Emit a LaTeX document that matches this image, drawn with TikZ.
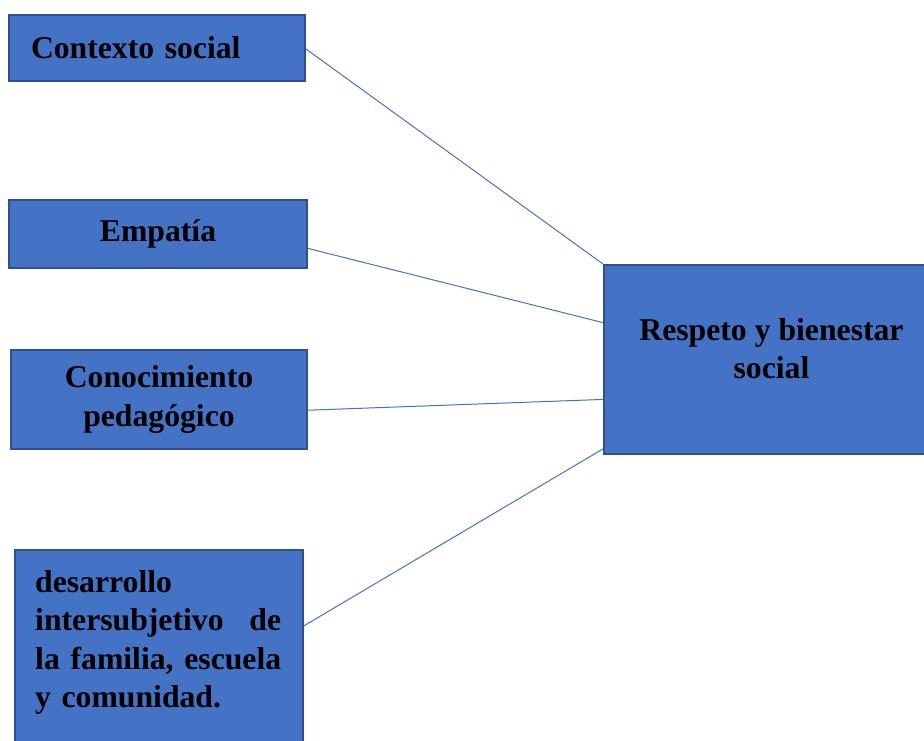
\documentclass[tikz,border=0pt]{standalone}
\usepackage{fontspec}
\setmainfont{Liberation Serif}
\usetikzlibrary{calc, positioning}
\definecolor{boxfill}{HTML}{4472C4}
\definecolor{boxline}{HTML}{2F528F}
\definecolor{linkline}{HTML}{4472C4}
\tikzset{
    box/.style = {rectangle, draw=boxline, line width=2pt, fill=boxfill, inner sep=0pt, anchor=north west}, % the blue boxes
    txt/.style = {font=\fontsize{31.7}{38.5}\selectfont\bfseries, align=center},
    link/.style = {draw=linkline, line width=1pt}
}

\begin{document}
\begin{tikzpicture}[x=1pt, y=-1pt]
        \useasboundingbox (0,0) rectangle (924,740);

        %boxes

        \node(ctx)[box, txt, align=left, text width=252pt, minimum width=296pt, minimum height=66pt] at (8,14) {Contexto social};
        \node(emp)[box, txt, minimum width=298pt, minimum height=68pt] at (8,199) {Empatía};
        \node(con)[box, txt, minimum width=296pt, minimum height=99pt] at (10,349) {Conocimiento\\pedagógico};
        \node(des)[box, minimum width=288pt, minimum height=200pt] at (14,549) {};
        \node(resp)[box, minimum width=323pt, minimum height=189pt] at (603,264) {};

        %texts

        \node(desT)[txt, align=left, text width=246pt, inner sep=0pt, anchor=north west] at ($(des.north west) + (21,21)$) {desarrollo\\intersubjetivo\hfill de\\la\hfill familia,\hfill escuela\\y comunidad.};
        \node(respT)[txt, inner sep=0pt] at ($(resp.center) + (6,-11)$) {Respeto y bienestar\\social};

        %lines

        \draw[link] ($(ctx.north east)!0.515!(ctx.south east)$) -- (resp.north west);
        \draw[link] ($(emp.north east)!0.706!(emp.south east)$) -- ($(resp.north west)!0.307!(resp.south west)$);
        \draw[link] ($(con.north east)!0.606!(con.south east)$) -- ($(resp.north west)!0.709!(resp.south west)$);
        \draw[link] ($(des.north east)!0.38!(des.south east)$) -- ($(resp.north west)!0.968!(resp.south west)$);
    \end{tikzpicture}
\end{document}
